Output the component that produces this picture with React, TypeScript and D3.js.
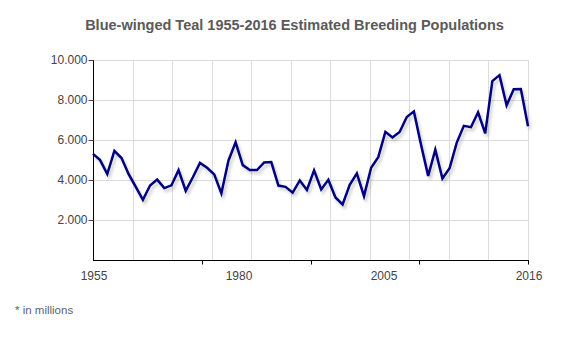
import React, { useEffect, useRef } from 'react'
import * as d3 from 'd3'

// Blue-winged Teal breeding population estimates (thousands), 1955-2016
const years = d3.range(1955, 2017)
const population = [
  5305, 4997, 4299, 5456, 5099, 4293, 3655, 3011, 3723, 4020,
  3594, 3731, 4491, 3462, 4138, 4857, 4610, 4279, 3332, 4976,
  5885, 4745, 4500, 4498, 4876, 4895, 3720, 3657, 3367, 3979,
  3502, 4479, 3528, 4011, 3126, 2776, 3764, 4333, 3193, 4616,
  5140, 6407, 6124, 6399, 7150, 7431, 5757, 4207, 5518, 4073,
  4586, 5860, 6707, 6640, 7384, 6329, 8948, 9242, 7732, 8542,
  8547, 6689
]
const yTicks = [2000, 4000, 6000, 8000, 10000]
const xLabels = ['1955', '1980', '2005', '2016']
const title = 'Blue-winged Teal 1955-2016 Estimated Breeding Populations'
const footnote = '* in millions'

const width = 580
const height = 350
const margin = { top: 60, right: 52, bottom: 90, left: 93 }
const font = 'Liberation Sans, Arial, sans-serif'

function App() {
  const ref = useRef<SVGSVGElement>(null)

  useEffect(() => {
    const node = ref.current
    if (!node) return
    const svg = d3.select(node)
    svg.selectAll('*').remove()

    const x0 = margin.left
    const x1 = width - margin.right
    const y0 = height - margin.bottom
    const y1 = margin.top

    const x = d3.scaleLinear().domain([years[0], years[years.length - 1]]).range([x0, x1])
    const y = d3.scaleLinear().domain([0, 10000]).range([y0, y1])
    const fmt = (v: number) => d3.format(',')(v).replace(/,/g, '.')

    // drop shadow for the line
    const defs = svg.append('defs')
    const f = defs.append('filter').attr('id', 'shadow')
      .attr('x', '-5%').attr('y', '-10%').attr('width', '115%').attr('height', '130%')
    f.append('feDropShadow')
      .attr('dx', 2).attr('dy', 3).attr('stdDeviation', 1.6)
      .attr('flood-color', '#000').attr('flood-opacity', 0.2)

    svg.append('text')
      .attr('x', 294.5).attr('y', 29.5)
      .attr('text-anchor', 'middle')
      .attr('font-family', font)
      .attr('font-weight', 'bold').attr('font-size', 14.5)
      .attr('fill', '#5a5a5a')
      .text(title)

    // grid
    const grid = svg.append('g').attr('stroke', '#dcdcdc').attr('stroke-width', 1)
    const gx = d3.scaleLinear().domain([0, 11]).range([x0, x1])
    grid.selectAll('line.v').data(d3.range(1, 12)).join('line')
      .attr('class', 'v')
      .attr('x1', d => Math.round(gx(d)) + 0.5).attr('x2', d => Math.round(gx(d)) + 0.5)
      .attr('y1', y1).attr('y2', y0)
    grid.selectAll('line.h').data(yTicks).join('line')
      .attr('class', 'h')
      .attr('x1', x0).attr('x2', x1)
      .attr('y1', d => Math.round(y(d)) + 0.5).attr('y2', d => Math.round(y(d)) + 0.5)

    // y axis
    const yAxis = svg.append('g')
      .attr('transform', `translate(${x0 + 0.5},0)`)
      .call(d3.axisLeft(y).tickValues(yTicks).tickFormat(d => fmt(+d)).tickSize(5).tickPadding(1))
    yAxis.select('.domain').attr('d', `M0,${y1}V${y0 + 0.5}`).attr('stroke', '#000')
    yAxis.selectAll('.tick line').attr('stroke', '#444')
    yAxis.selectAll('text')
      .attr('font-family', font)
      .attr('font-size', 12).attr('fill', '#444')

    // x axis: tick marks at quarters, labels spread evenly
    const xTick = d3.scaleLinear().domain([0, 4]).range([x0, x1])
    const xAxis = svg.append('g').attr('transform', `translate(0,${y0 + 0.5})`)
    xAxis.append('line').attr('x1', x0).attr('x2', x1 + 1).attr('stroke', '#000')
    xAxis.selectAll('line.t').data(d3.range(1, 5)).join('line')
      .attr('class', 't')
      .attr('x1', d => Math.round(xTick(d)) + 0.5).attr('x2', d => Math.round(xTick(d)) + 0.5)
      .attr('y1', 0).attr('y2', 4).attr('stroke', '#000')
    const xl = d3.scalePoint<string>().domain(xLabels).range([x0 + 1, x1 + 1])
    xAxis.selectAll('text').data(xLabels).join('text')
      .attr('x', d => xl(d) as number).attr('y', 16)
      .attr('text-anchor', 'middle').attr('dominant-baseline', 'middle')
      .attr('font-family', font)
      .attr('font-size', 12).attr('fill', '#444')
      .text(d => d)

    // line
    const line = d3.line<number>()
      .x((_, i) => x(years[i]))
      .y(d => y(d))
    svg.append('path')
      .datum(population)
      .attr('d', line)
      .attr('fill', 'none')
      .attr('stroke', '#000080')
      .attr('stroke-width', 2.5)
      .attr('stroke-linejoin', 'miter')
      .attr('filter', 'url(#shadow)')

    svg.append('text')
      .attr('x', 15).attr('y', 314)
      .attr('font-family', font)
      .attr('font-size', 11.5).attr('fill', '#5a5f7a')
      .text(footnote)
  }, [])

  return (
    <svg ref={ref} width={width} height={height}
      style={{ position: 'absolute', left: 0, top: 0, background: '#fff' }} />
  )
}

export default App
